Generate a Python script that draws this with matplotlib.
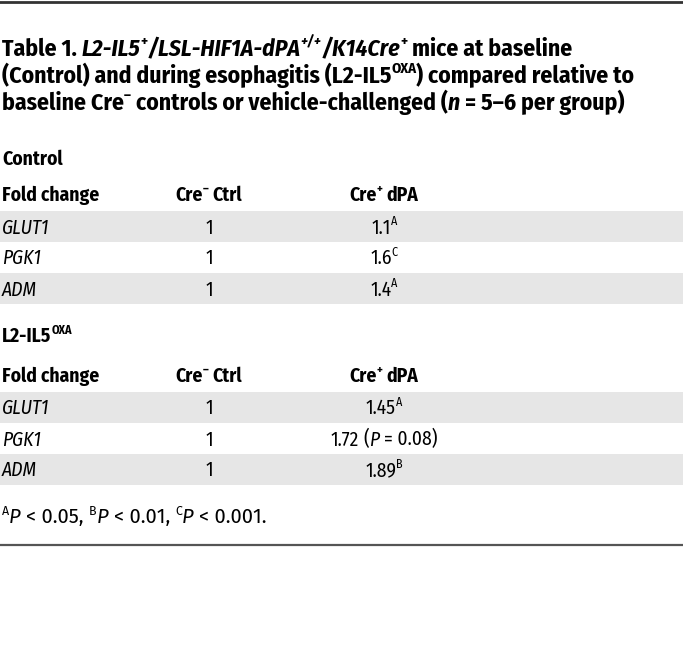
import matplotlib
matplotlib.use("Agg")
import matplotlib.pyplot as plt
from matplotlib import font_manager
from matplotlib.patches import Rectangle

# table content
genes = ["GLUT1", "PGK1", "ADM"]
ctrl_cre_neg = ["1", "1", "1"]
ctrl_cre_pos = ["1.1", "1.6", "1.4"]
ctrl_sig = ["A", "C", "A"]
oxa_cre_neg = ["1", "1", "1"]
oxa_cre_pos = ["1.45", "1.72", "1.89"]
oxa_sig = ["A", "", "B"]
oxa_note = ["", "P", ""]  # PGK1 shows (P = 0.08)
oxa_pval = ["", "0.08", ""]
footnote_keys = ["A", "B", "C"]
footnote_vals = ["0.05", "0.01", "0.001"]

names = {f.name for f in font_manager.fontManager.ttflist}


def pick(cands):
    for c in cands:
        if c in names:
            return c
    return "DejaVu Sans"


FONT = pick(["Fira Sans Condensed", "Roboto Condensed", "Barlow Semi Condensed", "Liberation Sans Narrow"])
FOOT_FONT = pick(["Fira Sans", "Open Sans", "Liberation Sans"])

fig = plt.figure(figsize=(6.83, 6.60), dpi=100)
ax = fig.add_axes([0, 0, 1, 1])
ax.set_xlim(0, 683)
ax.set_ylim(660, 0)
ax.axis("off")
renderer = fig.canvas.get_renderer()


def text_w(s, size, weight, style, family):
    t = ax.text(0, 0, s, fontsize=size, fontweight=weight, fontstyle=style, family=family)
    w = t.get_window_extent(renderer).width
    t.remove()
    return w


def runs(x, y, parts, size, ha="left", family=FONT, color="black"):
    # parts: (text, weight, style, sup)
    items = []
    cx = x
    for text, weight, style, sup in parts:
        s = size * 0.62 if sup else size
        dy = -size * 0.42 * 100 / 72 if sup else 0
        sp = text_w("x x", s, weight, style, family) - text_w("xx", s, weight, style, family)
        lead = len(text) - len(text.lstrip(" "))
        trail = len(text) - len(text.rstrip(" "))
        core = text.strip(" ")
        cx += lead * sp
        if core:
            t = ax.text(cx, y + dy, core, fontsize=s, fontweight=weight, fontstyle=style,
                        family=family, va="baseline", ha="left", color=color)
            cx += t.get_window_extent(renderer).width
            items.append(t)
        cx += trail * sp
    if ha == "center":
        shift = (cx - x) / 2
        for t in items:
            px, py = t.get_position()
            t.set_x(px - shift)


TS = 17  # title size
BS = 14  # body size
LX = 2
C2 = 209
C3 = 384
GREY = "#e6e6e6"

# rules
ax.axhline(1.5, color="#333333", lw=2)
ax.axhline(545, color="#555555", lw=1.6)

# title
B, N, I = "bold", "normal", "italic"
runs(LX, 56, [("Table 1. ", B, N, False), ("L2-IL5", B, I, False), ("+", B, N, True),
              ("/LSL-HIF1A-dPA", B, I, False), ("+/+", B, I, True), ("/K14Cre", B, I, False),
              ("+", B, N, True), (" mice at baseline", B, N, False)], TS)
runs(LX, 83, [("(Control) and during esophagitis (L2-IL5", B, N, False), ("OXA", B, N, True),
              (") compared relative to", B, N, False)], TS)
runs(LX, 110, [("baseline Cre", B, N, False), ("\u2013", B, N, True),
               (" controls or vehicle-challenged (", B, N, False), ("n", B, I, False),
               (" = 5\u20136 per group)", B, N, False)], TS)


def section(label_parts, label_y, head_y, band_top, cre_neg, cre_pos, sig, note, pval):
    runs(LX, label_y, label_parts, BS)
    runs(LX, head_y, [("Fold change", B, N, False)], BS)
    runs(C2, head_y, [("Cre", B, N, False), ("\u2013", B, N, True), (" Ctrl", B, N, False)], BS, ha="center")
    runs(C3, head_y, [("Cre", B, N, False), ("+", B, N, True), (" dPA", B, N, False)], BS, ha="center")
    rh = 31
    for i, g in enumerate(genes):
        top = band_top + i * rh
        if i % 2 == 0:
            ax.add_patch(Rectangle((0, top), 683, rh, color=GREY, lw=0))
        base = top + rh / 2 + 7
        runs(LX, base, [(g, N, I, False)], BS)
        runs(C2, base, [(cre_neg[i], N, N, False)], BS, ha="center")
        parts = [(cre_pos[i], N, N, False)]
        if sig[i]:
            parts.append((sig[i], N, N, True))
        if note[i]:
            parts += [(" (", N, N, False), (note[i], N, I, False), (" = " + pval[i] + ")", N, N, False)]
        runs(C3, base, parts, BS, ha="center")


section([("Control", B, N, False)], 165, 201, 211, ctrl_cre_neg, ctrl_cre_pos, ctrl_sig, ["", "", ""], ["", "", ""])
section([("L2-IL5", B, N, False), ("OXA", B, N, True)], 342, 382, 392, oxa_cre_neg, oxa_cre_pos, oxa_sig, oxa_note, oxa_pval)

# footnote
fparts = []
for k, (key, val) in enumerate(zip(footnote_keys, footnote_vals)):
    fparts += [(key, N, N, True), ("P", N, I, False), (" < " + val + (", " if k < 2 else "."), N, N, False)]
runs(LX, 523, fparts, 14.5, family=FOOT_FONT)

fig.savefig("out.png", dpi=100)
